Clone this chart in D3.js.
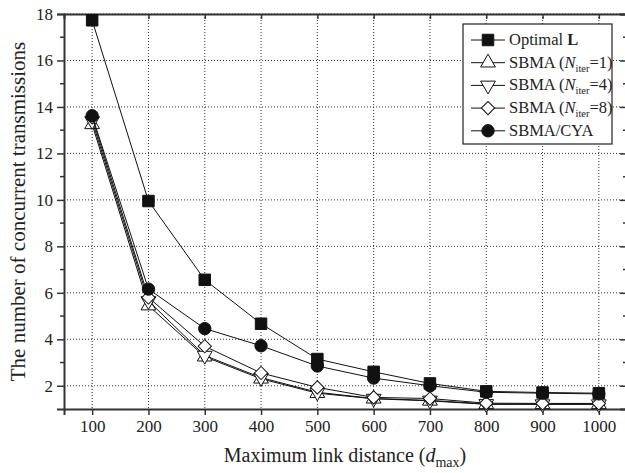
<!DOCTYPE html>
<html>
<head>
<meta charset="utf-8">
<script src="https://cdn.jsdelivr.net/npm/d3@7"></script>
<style>
  body { margin: 0; background: #fff; }
  svg text { font-family: "Liberation Serif", "DejaVu Serif", serif; fill: #222; }
</style>
</head>
<body>
<div class="svg-container"></div>
<script>
// data
const distances = [100, 200, 300, 400, 500, 600, 700, 800, 900, 1000];
const optimalL = [17.73, 9.95, 6.56, 4.67, 3.15, 2.6, 2.1, 1.76, 1.71, 1.68];
const sbmaIter1 = [13.25, 5.45, 3.25, 2.3, 1.68, 1.44, 1.35, 1.2, 1.2, 1.2];
const sbmaIter4 = [13.4, 5.65, 3.3, 2.35, 1.72, 1.45, 1.37, 1.22, 1.21, 1.21];
const sbmaIter8 = [13.55, 5.8, 3.7, 2.55, 1.93, 1.5, 1.45, 1.25, 1.24, 1.24];
const sbmaCya = [13.62, 6.16, 4.46, 3.72, 2.85, 2.33, 2.0, 1.72, 1.68, 1.65];
const yTicks = [2, 4, 6, 8, 10, 12, 14, 16, 18];
const yMinorTicks = [3, 5, 7, 9, 11, 13, 15, 17];

const series = [
  { name: "optimal", values: optimalL, shape: "square", fill: "#111" },
  { name: "iter1", iter: "1", values: sbmaIter1, shape: "up", fill: "#fff" },
  { name: "iter4", iter: "4", values: sbmaIter4, shape: "down", fill: "#fff" },
  { name: "iter8", iter: "8", values: sbmaIter8, shape: "diamond", fill: "#fff" },
  { name: "cya", values: sbmaCya, shape: "circle", fill: "#111" }
];

const W = 625, H = 473;
const margin = { top: 14, right: -2, bottom: 64, left: 64 };
const width = W - margin.left - margin.right;
const height = H - margin.top - margin.bottom;

const svg = d3.select(".svg-container")
  .append("svg")
  .attr("width", W)
  .attr("height", H);

const g = svg.append("g")
  .attr("transform", "translate(" + margin.left + "," + margin.top + ")");

const x = d3.scaleLinear().domain([50, 1050]).range([0, width]);
const y = d3.scaleLinear().domain([1, 18]).range([height, 0]);

// GRID
g.append("g").selectAll("line")
  .data(distances)
  .enter().append("line")
  .attr("x1", d => x(d)).attr("x2", d => x(d))
  .attr("y1", 0).attr("y2", height)
  .attr("stroke", "#333").attr("stroke-width", 1)
  .attr("stroke-dasharray", "1,2");

g.append("g").selectAll("line")
  .data(yTicks)
  .enter().append("line")
  .attr("y1", d => y(d)).attr("y2", d => y(d))
  .attr("x1", 0).attr("x2", width)
  .attr("stroke", "#333").attr("stroke-width", 1)
  .attr("stroke-dasharray", "1,2");

// AXES
const axisColor = "#333";
g.append("g")
  .attr("transform", "translate(0," + height + ")")
  .call(d3.axisBottom(x).tickValues(distances).tickSize(6).tickPadding(5).tickFormat(d3.format("d")));
g.append("g")
  .call(d3.axisLeft(y).tickValues(yTicks).tickSize(7).tickPadding(4));

g.append("g").selectAll("line")
  .data(yMinorTicks)
  .enter().append("line")
  .attr("x1", -4).attr("x2", 0)
  .attr("y1", d => y(d)).attr("y2", d => y(d))
  .attr("stroke", axisColor).attr("stroke-width", 1.5);

// top + right axes with inward ticks
g.append("g")
  .call(d3.axisTop(x).tickValues(distances).tickSize(-5).tickFormat(""));
g.append("g")
  .attr("transform", "translate(" + width + ",0)")
  .call(d3.axisRight(y).tickValues(yTicks).tickSize(-7).tickFormat(""));
g.append("g").selectAll("line")
  .data(yMinorTicks)
  .enter().append("line")
  .attr("x1", width - 4).attr("x2", width)
  .attr("y1", d => y(d)).attr("y2", d => y(d))
  .attr("stroke", axisColor).attr("stroke-width", 1.5);

g.selectAll(".domain").attr("stroke", axisColor).attr("stroke-width", 2);
g.selectAll(".tick line").attr("stroke", axisColor).attr("stroke-width", 1.5);
g.selectAll(".tick text").style("font-size", "17px").attr("fill", "#222");

// LINES + MARKERS
const line = d3.line()
  .x((d, i) => x(distances[i]))
  .y(d => y(d));

function markerPath(shape) {
  if (shape === "square") return d3.symbol(d3.symbolSquare, 132)();
  if (shape === "circle") return d3.symbol(d3.symbolCircle, 120)();
  if (shape === "up" || shape === "down") return d3.symbol(d3.symbolTriangle, 95)();
  return d3.symbol(d3.symbolSquare, 88)();
}
function markerRotate(shape) {
  if (shape === "down") return " rotate(180)";
  if (shape === "diamond") return " rotate(45)";
  return "";
}

series.forEach(s => {
  g.append("path")
    .datum(s.values)
    .attr("fill", "none")
    .attr("stroke", "#111")
    .attr("stroke-width", 1)
    .attr("d", line);

  g.append("g").selectAll("path")
    .data(s.values)
    .enter().append("path")
    .attr("d", markerPath(s.shape))
    .attr("transform", (d, i) => "translate(" + x(distances[i]) + "," + y(d) + ")" + markerRotate(s.shape))
    .attr("fill", s.fill)
    .attr("stroke", "#111")
    .attr("stroke-width", 1);
});

// AXIS LABELS
svg.append("text")
  .attr("x", 345)
  .attr("y", 462)
  .attr("text-anchor", "middle")
  .style("font-size", "20px")
  .html('Maximum link distance (<tspan font-style="italic">d</tspan><tspan dy="5" font-size="14px">max</tspan><tspan dy="-5">)</tspan>');

svg.append("text")
  .attr("transform", "translate(25," + (margin.top + height / 2) + ") rotate(-90)")
  .attr("text-anchor", "middle")
  .style("font-size", "21px")
  .text("The number of concurrent transmissions");

// LEGEND
const legend = svg.append("g")
  .attr("id", "legend")
  .attr("transform", "translate(463,24)");

legend.append("rect")
  .attr("width", 149)
  .attr("height", 120)
  .attr("fill", "#fff")
  .attr("stroke", "#222")
  .attr("stroke-width", 1.2);

const rows = legend.selectAll(".row")
  .data(series)
  .enter().append("g")
  .attr("class", "row")
  .attr("transform", (d, i) => "translate(0," + (16 + i * 22.7) + ")");

rows.append("line")
  .attr("x1", 8).attr("x2", 42)
  .attr("stroke", "#111").attr("stroke-width", 1);

rows.append("path")
  .attr("d", d => markerPath(d.shape))
  .attr("transform", d => "translate(25,0)" + markerRotate(d.shape))
  .attr("fill", d => d.fill)
  .attr("stroke", "#111")
  .attr("stroke-width", 1);

rows.append("text")
  .attr("x", 46)
  .attr("y", 5)
  .style("font-size", "16.5px")
  .html(d => {
    if (d.name === "optimal") return 'Optimal <tspan font-weight="bold">L</tspan>';
    if (d.name === "cya") return "SBMA/CYA";
    return 'SBMA (<tspan font-style="italic">N</tspan><tspan dy="4" font-size="10.5px">iter</tspan><tspan dy="-4">=' + d.iter + ')</tspan>';
  });
</script>
</body>
</html>
